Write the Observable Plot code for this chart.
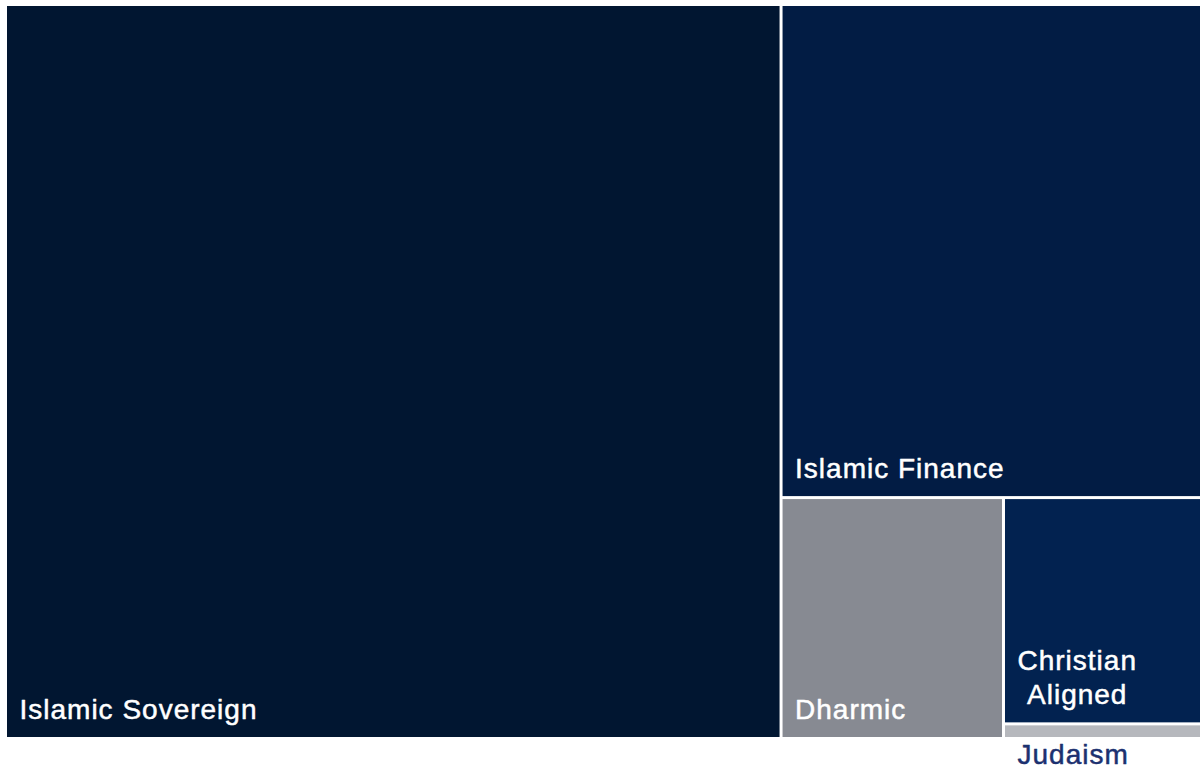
<!DOCTYPE html>
<html>
<head>
<meta charset="utf-8">
<script src="https://cdn.jsdelivr.net/npm/d3@7"></script>
<script src="https://cdn.jsdelivr.net/npm/@observablehq/plot@0.6"></script>
<style>
  html, body { margin: 0; padding: 0; background: #ffffff; }
  #chart svg { display: block; }
</style>
</head>
<body>
<div id="chart"></div>
<script>
// ---- data (shares of total) ----
const categories = ["Islamic Sovereign", "Islamic Finance", "Dharmic", "Christian Aligned", "Judaism"];
const labels     = ["Islamic Sovereign", "Islamic Finance", "Dharmic", "Christian\nAligned", "Judaism"];
const shares     = [64.8, 23.6, 6.1, 5.1, 0.33];
const colors     = ["#011631", "#021c44", "#878a92", "#022250", "#b6b8bd"];
const labelInside = [true, true, true, true, false];

// ---- layout ----
const W = 1193, H = 731;
const FONT_SIZE = 28, LETTER_SPACING = 1, FONT = "Liberation Sans";

const root = d3.hierarchy({
  children: categories.map((c, i) => ({
    name: c, label: labels[i], value: shares[i], color: colors[i], inside: labelInside[i]
  }))
}).sum(d => d.value || 0).sort((a, b) => b.value - a.value);

d3.treemap().tile(d3.treemapSquarify).size([W, H]).paddingInner(3)(root);

// measure text to centre multi-line labels inside a left-aligned block
const ctx = document.createElement("canvas").getContext("2d");
ctx.font = `${FONT_SIZE}px "${FONT}"`;
try { ctx.letterSpacing = LETTER_SPACING + "px"; } catch (e) {}
const blockWidth = s => d3.max(s.split("\n"), l => ctx.measureText(l).width);

const cells = root.leaves().map(l => ({
  ...l.data, x0: l.x0, x1: l.x1, y0: l.y0, y1: l.y1,
  lx: l.x0 + 12 + blockWidth(l.data.label) / 2,
  ly: l.data.inside ? l.y1 - 19 : l.y1 + 26
}));

const textOpts = {
  x: "lx", y: "ly", text: "label",
  fontSize: FONT_SIZE, textAnchor: "middle", lineAnchor: "bottom", lineHeight: 34 / FONT_SIZE,
  strokeWidth: 0.5
};

const chart = Plot.plot({
  width: 1200,
  height: 769,
  marginLeft: 7,
  marginRight: 0,
  marginTop: 6,
  marginBottom: 32,
  x: { domain: [0, W], axis: null },
  y: { domain: [0, H], axis: null, reverse: true },
  style: { fontFamily: FONT, letterSpacing: LETTER_SPACING + "px", background: "#ffffff" },
  marks: [
    Plot.rect(cells, { x1: "x0", x2: "x1", y1: "y0", y2: "y1", fill: "color" }),
    Plot.text(cells.filter(d => d.inside), { ...textOpts, fill: "#ffffff", stroke: "#ffffff" }),
    Plot.text(cells.filter(d => !d.inside), { ...textOpts, fill: "#1c3170", stroke: "#1c3170" })
  ]
});
document.getElementById("chart").appendChild(chart);
</script>
</body>
</html>
